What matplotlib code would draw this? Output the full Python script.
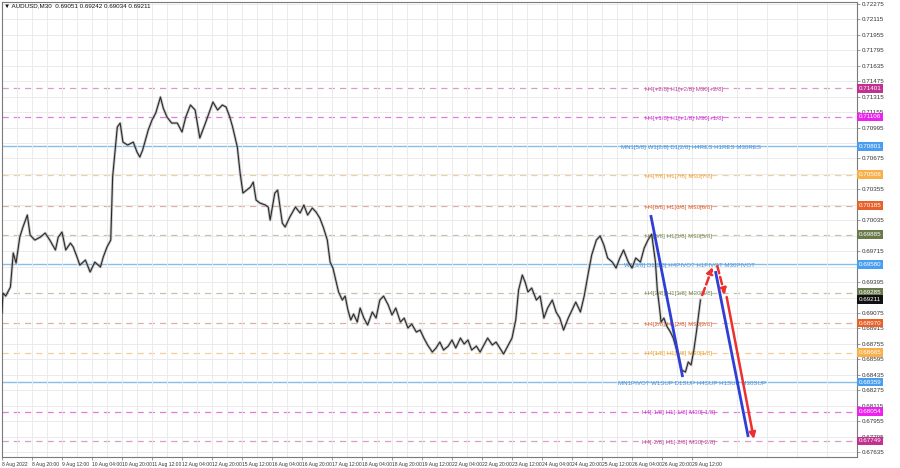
import matplotlib.pyplot as plt
from matplotlib.ticker import FixedLocator

plt.rcParams['font.family'] = ['Liberation Sans', 'DejaVu Sans']

# ---- price path (M30 bar index, close) ----
BARS = [0, 1, 4, 9, 12, 15, 19, 22, 27, 30, 35, 41, 46, 51, 57, 60, 64, 68, 73, 76,
        80, 83, 89, 94, 99, 105, 108, 112, 116, 118, 121, 123, 126, 129, 134, 140, 144, 147, 150, 156,
        160, 164, 169, 172, 176, 181, 187, 192, 196, 201, 206, 211, 217, 222, 225, 230, 235, 239, 243, 246,
        251, 254, 257, 261, 265, 268, 271, 275, 281, 284, 286, 291, 294, 299, 302, 307, 313, 318,
        322, 326, 331, 335, 339, 343, 347, 350, 353, 356, 359, 363, 366, 369, 372, 375, 379, 382, 386, 390,
        395, 399, 403, 407, 412, 416, 420, 425, 429, 433, 437, 442, 446, 450, 454, 459, 463, 467, 471, 476,
        480, 484, 489, 493, 497, 501, 506, 510, 514, 518, 523, 527, 531, 535, 540, 544, 548, 551, 555, 558,
        561, 565, 570, 574, 578, 582, 587, 591, 595, 599, 604, 608, 612, 617, 621, 625, 629, 634, 638, 642,
        646, 651, 655, 659, 663, 668, 672, 676, 681, 685, 689, 693, 697, 699, 701, 703, 706, 709, 713, 716,
        719, 723, 725, 729, 732, 735, 738, 741, 745]
CLOSES = [0.69074, 0.69281, 0.69250, 0.69344, 0.69696, 0.69592, 0.69861, 0.69955, 0.70089, 0.69882,
          0.69830, 0.69861, 0.69903, 0.69830, 0.69727, 0.69861, 0.69913, 0.69727, 0.69799, 0.69758,
          0.69654, 0.69571, 0.69623, 0.69499, 0.69602, 0.69551, 0.69654, 0.69758, 0.69830, 0.70483,
          0.70794, 0.71001, 0.71042, 0.70845, 0.70814, 0.70845, 0.70742, 0.70690, 0.70762, 0.70970,
          0.71073, 0.71146, 0.71311, 0.71197, 0.71104, 0.71042, 0.71042, 0.70949, 0.71104, 0.71229,
          0.71177, 0.70887, 0.71042, 0.71177, 0.71260, 0.71177, 0.71229, 0.71208, 0.71104, 0.71001,
          0.70794, 0.70524, 0.70317, 0.70348, 0.70379, 0.70431, 0.70245, 0.70214, 0.70193, 0.70172,
          0.70037, 0.70317, 0.70348, 0.70006, 0.69965, 0.70069, 0.70172, 0.70110,
          0.70193, 0.70089, 0.70162, 0.70120, 0.70058, 0.69955, 0.69830, 0.69602, 0.69540, 0.69416,
          0.69292, 0.69209, 0.69250, 0.69105, 0.69002, 0.69064, 0.68981, 0.69126, 0.69022, 0.68950,
          0.69085, 0.69022, 0.69209, 0.69250, 0.69157, 0.69054, 0.69126, 0.68981, 0.69022, 0.68919,
          0.68960, 0.68877, 0.68898, 0.68815, 0.68743, 0.68670, 0.68712, 0.68774, 0.68691, 0.68732,
          0.68795, 0.68712, 0.68815, 0.68753, 0.68795, 0.68691, 0.68732, 0.68670, 0.68743, 0.68815,
          0.68743, 0.68774, 0.68712, 0.68650, 0.68743, 0.68815, 0.69002, 0.69312, 0.69468, 0.69395,
          0.69292, 0.69333, 0.69209, 0.69250, 0.69022, 0.69126, 0.69209, 0.69085, 0.69022, 0.68898,
          0.69022, 0.69105, 0.69188, 0.69085, 0.69250, 0.69468, 0.69675, 0.69830, 0.69872, 0.69779,
          0.69644, 0.69602, 0.69540, 0.69644, 0.69727, 0.69602, 0.69540, 0.69644, 0.69602, 0.69747,
          0.69830, 0.69892, 0.69602, 0.69312, 0.69157, 0.68981, 0.69022, 0.68940, 0.68877, 0.68815,
          0.68712, 0.68567, 0.68484, 0.68463, 0.68567, 0.68536, 0.68691, 0.68898, 0.69209]

# ---- Murrey math levels ----
LEVEL_PRICES = [0.71401, 0.71106, 0.70801, 0.70506, 0.70185, 0.69885, 0.69580,
                0.69285, 0.68970, 0.68665, 0.68359, 0.68054, 0.67749]
LEVEL_TEXT = ["H4[+2/8] H1[+2/8] M30[+2/8]",
              "H4[+1/8] H1[+1/8] M30[+1/8]",
              "MN1[5/8] W1[2/8] D1[2/8] H4RES H1RES M30RES",
              "H4[7/8] H1[7/8] M30[7/8]",
              "H4[6/8] H1[6/8] M30[6/8]",
              "H4[5/8] H1[5/8] M30[5/8]",
              "W1[3/8] D1[1/8] H4PIVOT H1PIVOT M30PIVOT",
              "H4[3/8] H1[3/8] M30[3/8]",
              "H4[2/8] H1[2/8] M30[2/8]",
              "H4[1/8] H1[1/8] M30[1/8]",
              "MN1PIVOT W1SUP D1SUP H4SUP H1SUP M30SUP",
              "H4[-1/8] H1[-1/8] M30[-1/8]",
              "H4[-2/8] H1[-2/8] M30[-2/8]"]
LEVEL_KIND = ["p2", "p1", "blue", "org", "red", "olive", "blue",
              "olive", "red", "org", "blue", "p1", "p2"]

LAST_PRICE = 0.69211

# forecast arrows: (bar, price) pairs
BLUE_SEGS = [((692, 0.70089), (726, 0.68411)),
             ((761, 0.69509), (796, 0.67790))]
RED_DASHED = [((747, 0.69261), (758, 0.69551)),
              ((763, 0.69561), (771, 0.69261))]
RED_SOLID = [((773, 0.69240), (802, 0.67769))]

TIME_LABELS = ["8 Aug 2022", "8 Aug 20:00", "9 Aug 12:00", "10 Aug 04:00", "10 Aug 20:00",
               "11 Aug 12:00", "12 Aug 04:00", "12 Aug 20:00", "15 Aug 12:00", "16 Aug 04:00",
               "16 Aug 20:00", "17 Aug 12:00", "18 Aug 04:00", "18 Aug 20:00", "19 Aug 12:00",
               "22 Aug 04:00", "22 Aug 20:00", "23 Aug 12:00", "24 Aug 04:00", "24 Aug 20:00",
               "25 Aug 12:00", "26 Aug 04:00", "26 Aug 20:00", "29 Aug 12:00"]
PRICE_TICKS = [round(0.72275 - 0.0016 * i, 5) for i in range(30)]

# style per level kind: line colour, line style, text colour, box colour
STYLE = {
    "p2":    ("#d99cc4", (0, (5, 4)), "#c0409c", "#c2318f"),
    "p1":    ("#e27ae2", (0, (5, 4)), "#d030d0", "#ee22ee"),
    "blue":  ("#86bde9", "-",         "#4a90d8", "#4a9ef0"),
    "org":   ("#f1cf9a", (0, (5, 4)), "#f0a030", "#f7b04a"),
    "red":   ("#dcb0a4", (0, (5, 4)), "#e06030", "#e8602a"),
    "olive": ("#c2c2aa", (0, (5, 4)), "#7a8a50", "#6a7a4c"),
}

fig = plt.figure(figsize=(9, 4.68), dpi=100)
ax = fig.add_axes([2 / 900, 11 / 468, 855 / 900, 455 / 468])
ax.set_xlim(0, 912)
ax.set_ylim(0.67583, 0.72296)

# axis labels hidden behind level boxes are left out, as the terminal does
boxed = LEVEL_PRICES + [LAST_PRICE]
shown_ticks = [t for t in PRICE_TICKS if min(abs(t - b) for b in boxed) > 0.00045]

ax.xaxis.set_minor_locator(FixedLocator(range(16, 912, 32)))
ax.yaxis.set_minor_locator(FixedLocator(PRICE_TICKS))
ax.set_xticks(range(0, 32 * len(TIME_LABELS), 32))
ax.set_xticklabels(TIME_LABELS, fontsize=3.6, color="#333333", ha="left")
ax.set_yticks(shown_ticks)
ax.set_yticklabels([f"{t:.5f}" for t in shown_ticks], fontsize=4.5, color="#333333")
ax.yaxis.tick_right()
ax.grid(True, which="both", color="#ebebeb", lw=0.7, zorder=0)
ax.tick_params(axis="both", which="major", length=2, width=0.6, color="#888888", pad=1.5)
ax.tick_params(axis="both", which="minor", length=0)
for s in ax.spines.values():
    s.set_color("#7a7a7a")
    s.set_linewidth(0.8)

# levels
for price, txt, kind in zip(LEVEL_PRICES, LEVEL_TEXT, LEVEL_KIND):
    lc, ls, tc, bc = STYLE[kind]
    ax.axhline(price, color=lc, ls=ls, lw=0.9 if kind != "blue" else 1.0, zorder=1)
    x0 = 686
    if txt.startswith("MN1PIVOT"):
        x0 = 657
    elif txt.startswith("MN1[5/8]"):
        x0 = 660
    elif txt.startswith("W1"):
        x0 = 664
    elif "-" in txt:
        x0 = 683
    ax.text(x0, price - 0.00013, txt, fontsize=4.4, color=tc, va="center", ha="left", zorder=2)
    ax.text(1.002, price, f"{price:.5f}", transform=ax.get_yaxis_transform(), fontsize=4.5,
            color="white", va="center", ha="left", clip_on=False, zorder=6,
            bbox=dict(boxstyle="square,pad=0.3", fc=bc, ec="none"))
ax.text(1.002, LAST_PRICE, f"{LAST_PRICE:.5f}", transform=ax.get_yaxis_transform(), fontsize=4.5,
        color="white", va="center", ha="left", clip_on=False, zorder=7,
        bbox=dict(boxstyle="square,pad=0.3", fc="#111111", ec="none"))

# price line (wick shadow + close line)
ax.plot(BARS, CLOSES, color="#9a9a9a", lw=2.0, alpha=0.55, zorder=3)
ax.plot(BARS, CLOSES, color="#2a2a2a", lw=0.8, zorder=4)

# forecast
for (a, b) in BLUE_SEGS:
    ax.plot([a[0], b[0]], [a[1], b[1]], color="#2f3fd6", lw=2.0, zorder=5, solid_capstyle="butt")
for (a, b) in RED_DASHED:
    ax.annotate("", xy=b, xytext=a, zorder=5,
                arrowprops=dict(arrowstyle="-|>", color="#ec3030", lw=1.8, ls=(0, (3, 1.5)),
                                mutation_scale=9, shrinkA=0, shrinkB=0))
for (a, b) in RED_SOLID:
    ax.annotate("", xy=b, xytext=a, zorder=5,
                arrowprops=dict(arrowstyle="-|>", color="#ec3030", lw=1.8,
                                mutation_scale=9, shrinkA=0, shrinkB=0))

fig.text(4 / 900, 1 - 6 / 468, "\u25BC AUDUSD,M30  0.69051 0.69242 0.69034 0.69211",
         fontsize=4.5, color="#111111", va="center", ha="left")

fig.savefig("out.png", dpi=100, facecolor="white")
